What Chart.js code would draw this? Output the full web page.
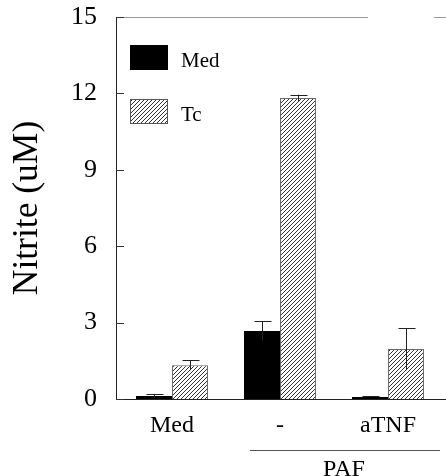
<!DOCTYPE html>
<html>
<head>
<meta charset="utf-8">
<script src="https://cdn.jsdelivr.net/npm/chart.js@4/dist/chart.umd.min.js"></script>
<style>
html,body{margin:0;padding:0;background:#fff;}
#wrap{width:446px;height:476px;position:relative;}
</style>
</head>
<body>
<div id="wrap"><canvas id="c" width="446" height="476"></canvas></div>
<script>
// ---- data ----
const categories = ['Med', '-', 'aTNF'];
const seriesNames = ['Med', 'Tc'];
const medValues = [0.12, 2.67, 0.08];
const medErrors = [0.08, 0.38, 0.02];
const tcValues = [1.33, 11.82, 1.96];
const tcErrors = [0.20, 0.13, 0.83];
const yTicks = [0, 3, 6, 9, 12, 15];
const groupLabel = 'PAF';
const groupSpan = [1, 2];
const yTitle = 'Nitrite (uM)';

const SERIF = "'Liberation Serif', 'Times New Roman', Times, serif";

function makeHatch() {
  const s = 4;
  const c = document.createElement('canvas');
  c.width = s; c.height = s;
  const g = c.getContext('2d');
  g.fillStyle = '#fff';
  g.fillRect(0, 0, s, s);
  g.strokeStyle = '#333';
  g.lineWidth = 1;
  g.beginPath();
  g.moveTo(-1, s + 1); g.lineTo(s + 1, -1);
  g.moveTo(-1, 1); g.lineTo(1, -1);
  g.moveTo(s - 1, s + 1); g.lineTo(s + 1, s - 1);
  g.stroke();
  return g.createPattern(c, 'repeat');
}
const hatch = makeHatch();

const errs = [medErrors, tcErrors];

const decor = {
  id: 'decor',
  afterDatasetsDraw(chart) {
    const ctx = chart.ctx;
    const x = chart.scales.x, y = chart.scales.y;
    const area = chart.chartArea;
    ctx.save();
    // top frame (faint)
    const ty = Math.round(area.top) + 0.5;
    ctx.strokeStyle = '#9a9a9a';
    ctx.lineWidth = 1;
    ctx.beginPath();
    ctx.moveTo(area.left, ty);
    ctx.lineTo(area.left + 252, ty);
    ctx.moveTo(area.right - 12, ty);
    ctx.lineTo(area.right, ty);
    ctx.stroke();
    // inward tick marks
    ctx.strokeStyle = '#333';
    ctx.beginPath();
    yTicks.forEach(v => {
      const py = Math.round(y.getPixelForValue(v)) + 0.5;
      ctx.moveTo(area.left, py);
      ctx.lineTo(area.left + 8, py);
    });
    ctx.stroke();
    // error bars
    ctx.strokeStyle = '#222';
    ctx.lineWidth = 1;
    chart.data.datasets.forEach((ds, di) => {
      const meta = chart.getDatasetMeta(di);
      meta.data.forEach((el, i) => {
        const v = ds.data[i].y, e = errs[di][i];
        const cx = Math.round(el.x) + 0.5;
        const yt = y.getPixelForValue(v + e);
        const yb = y.getPixelForValue(Math.max(0, v - e));
        ctx.beginPath();
        ctx.moveTo(cx, yb);
        ctx.lineTo(cx, yt);
        ctx.moveTo(cx - 8, Math.round(yt) + 0.5);
        ctx.lineTo(cx + 9, Math.round(yt) + 0.5);
        ctx.stroke();
      });
    });
    // legend
    const boxes = [[130, 45], [130, 99]];
    chart.data.datasets.forEach((ds, di) => {
      const [bx, by] = boxes[di];
      ctx.fillStyle = ds.backgroundColor;
      ctx.fillRect(bx, by, 38, 25);
      ctx.strokeStyle = di === 0 ? '#000' : '#555';
      ctx.strokeRect(bx + 0.5, by + 0.5, 37, 24);
      ctx.fillStyle = '#000';
      ctx.font = '21px ' + SERIF;
      ctx.textBaseline = 'middle';
      ctx.textAlign = 'left';
      ctx.fillText(ds.label, 181, by + 16);
    });
    // group bracket
    const g0 = x.getPixelForValue(groupSpan[0]), g1 = x.getPixelForValue(groupSpan[1]);
    ctx.strokeStyle = '#555';
    ctx.beginPath();
    ctx.moveTo(g0 - 30, 450.5);
    ctx.lineTo(g1 + 52, 450.5);
    ctx.stroke();
    ctx.fillStyle = '#000';
    ctx.font = '24px ' + SERIF;
    ctx.textAlign = 'center';
    ctx.textBaseline = 'alphabetic';
    ctx.fillText(groupLabel, (g0 + g1) / 2 + 10, 476);
    ctx.restore();
  }
};

new Chart(document.getElementById('c'), {
  type: 'bar',
  data: {
    datasets: [
      {
        label: seriesNames[0],
        data: medValues.map((v, i) => ({x: i, y: v})),
        backgroundColor: '#000',
        borderColor: '#000',
        borderWidth: 0,
        categoryPercentage: 0.667,
        barPercentage: 1.0
      },
      {
        label: seriesNames[1],
        data: tcValues.map((v, i) => ({x: i, y: v})),
        backgroundColor: hatch,
        borderColor: '#6a6a6a',
        borderWidth: 1,
        categoryPercentage: 0.667,
        barPercentage: 1.0
      }
    ]
  },
  options: {
    responsive: false,
    animation: false,
    layout: {padding: {top: 17, right: 0, left: 0, bottom: 0}},
    plugins: {legend: {display: false}, tooltip: {enabled: false}},
    scales: {
      x: {
        type: 'linear',
        offset: false,
        bounds: 'data',
        min: -0.5185,
        max: 2.537,
        afterBuildTicks: s => { s.ticks = categories.map((c, i) => ({value: i})); },
        afterFit: s => { s.height = 77; s.paddingLeft = 0; s.paddingRight = 0; },
        grid: {display: false, drawTicks: false, offset: false},
        border: {display: true, color: '#222', width: 1},
        ticks: {
          autoSkip: false,
          maxRotation: 0,
          padding: 12,
          color: '#000',
          font: {family: SERIF, size: 24},
          callback: v => categories[v]
        }
      },
      y: {
        min: 0,
        max: 15,
        afterBuildTicks: s => { s.ticks = yTicks.map(v => ({value: v})); },
        afterFit: s => { s.width = 116; s.paddingTop = 0; s.paddingBottom = 0; },
        grid: {display: false, drawTicks: false},
        border: {display: true, color: '#222', width: 1},
        ticks: {
          padding: 19,
          color: '#000',
          font: {family: SERIF, size: 26}
        },
        title: {
          display: true,
          text: yTitle,
          color: '#000',
          font: {family: SERIF, size: 35.5},
          padding: {top: 6, bottom: 0}
        }
      }
    }
  },
  plugins: [decor]
});
</script>
</body>
</html>
